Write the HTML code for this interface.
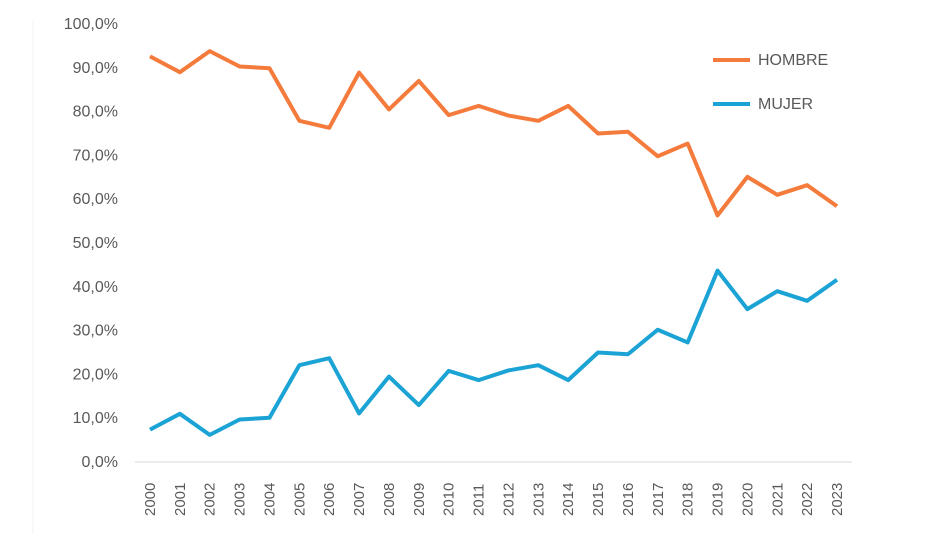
<!DOCTYPE html>
<html><head><meta charset="utf-8"><style>
html,body{margin:0;padding:0;background:#fff;}
svg{display:block;font-family:"Liberation Sans",sans-serif;}
</style></head><body>
<svg id="chart" width="950" height="534">
<line x1="33" y1="20" x2="33" y2="534" stroke="#f3f3f3" stroke-width="1"/>
<g id="yaxis"></g>
<g id="xaxis"></g>
<g id="series"></g>
<g>
 <g>
  <line x1="713" y1="60" x2="750" y2="60" stroke="#F47B3C" stroke-width="4"/>
  <text x="758" y="65" font-size="16" fill="#595959">HOMBRE</text>
 </g>
 <g>
  <line x1="713" y1="104" x2="750" y2="104" stroke="#1AA3D4" stroke-width="4"/>
  <text x="758" y="109" font-size="16" fill="#595959">MUJER</text>
 </g>
</g>
</svg>
<script>
const years=["2000","2001","2002","2003","2004","2005","2006","2007","2008","2009","2010","2011","2012","2013","2014","2015","2016","2017","2018","2019","2020","2021","2022","2023"];
const hombre=[92.6,89.0,93.8,90.3,89.9,77.9,76.3,88.9,80.5,87.0,79.2,81.3,79.1,77.9,81.3,75.0,75.4,69.8,72.7,56.3,65.1,61.0,63.2,58.4];
const mujer=[7.4,11.0,6.2,9.7,10.1,22.1,23.7,11.1,19.5,13.0,20.8,18.7,20.9,22.1,18.7,25.0,24.6,30.2,27.3,43.7,34.9,39.0,36.8,41.6];
const yTicks=[0,10,20,30,40,50,60,70,80,90,100];
const yTickLabels=["0,0%","10,0%","20,0%","30,0%","40,0%","50,0%","60,0%","70,0%","80,0%","90,0%","100,0%"];
const NS="http://www.w3.org/2000/svg";
const x0=150,x1=837,yb=462,yt=24;
function xs(i){return x0+(x1-x0)*i/(years.length-1);}
function ys(v){return yb-(yb-yt)*v/100;}
function mk(t,a,p){const e=document.createElementNS(NS,t);for(const k in a)e.setAttribute(k,a[k]);p.appendChild(e);return e;}
const ya=document.getElementById('yaxis'),xa=document.getElementById('xaxis'),sg=document.getElementById('series');
yTicks.forEach((v,i)=>{const t=mk('text',{x:118,y:ys(v)+5,'text-anchor':'end','font-size':16,fill:'#595959'},ya);t.textContent=yTickLabels[i];

});
const ax=mk('line',{x1:135,y1:yb,x2:852,y2:yb,stroke:'#d9d9d9','stroke-width':1},xa);


years.forEach((y,i)=>{const t=mk('text',{transform:`translate(${xs(i)+5},${516}) rotate(-90)`,'font-size':15,fill:'#595959'},xa);t.textContent=y;

});
function line(d,c,n){const p=mk('polyline',{points:d.map((v,i)=>xs(i)+','+ys(v)).join(' '),fill:'none',stroke:c,'stroke-width':4,'stroke-linejoin':'round'},sg);

}
line(hombre,'#F47B3C','hombre-line');
line(mujer,'#1AA3D4','mujer-line');
</script>
</body></html>
